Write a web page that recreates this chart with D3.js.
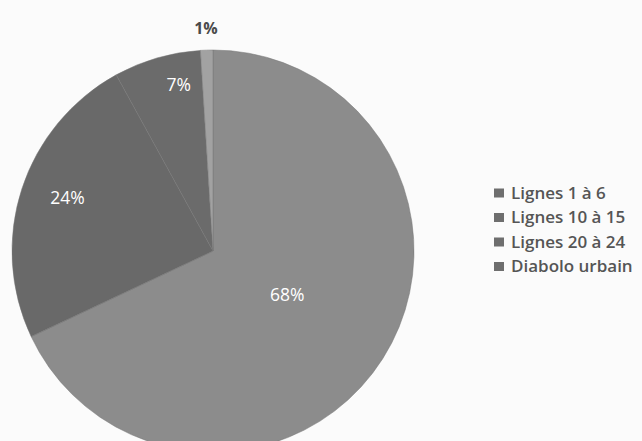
<!DOCTYPE html>
<html>
<head>
<meta charset="utf-8">
<script src="https://cdn.jsdelivr.net/npm/d3@7"></script>
<style>
  html, body { margin: 0; padding: 0; background: #fbfbfb; }
  svg { display: block; }
</style>
</head>
<body>
<svg id="chart" width="642" height="441"></svg>
<script>
// Share of traffic per line group
const categories = ["Lignes 1 à 6", "Lignes 10 à 15", "Lignes 20 à 24", "Diabolo urbain"];
const shares = [68, 24, 7, 1];
const labels = ["68%", "24%", "7%", "1%"];
const sliceColors = ["#8c8c8c", "#696969", "#6b6b6b", "#a2a2a2"];

const W = 642, H = 441;
const cx = 213, cy = 251, R = 201;

const svg = d3.select("#chart");
svg.append("rect").attr("width", W).attr("height", H).attr("fill", "#fbfbfb");

const pie = d3.pie().sort(null).value(d => d);
const arcs = pie(shares);
const arc = d3.arc().innerRadius(0).outerRadius(R);

const color = d3.scaleOrdinal().domain(categories).range(sliceColors);

const g = svg.append("g").attr("transform", `translate(${cx},${cy})`);

g.selectAll("path.slice")
  .data(arcs)
  .join("path")
  .attr("class", "slice")
  .attr("d", arc)
  .attr("fill", (d, i) => color(categories[i]))
  .attr("stroke", "#747474")
  .attr("stroke-width", 0.5);

// Label placement: radius as a fraction of R, and an angular nudge in degrees
const labelRadius = [0.43, 0.77, 0.845, 1.11];
const labelNudge = [-1.7, 2, 4.6, 0];

g.selectAll("text.val")
  .data(arcs)
  .join("text")
  .attr("class", "val")
  .attr("x", (d, i) => {
    const a = (d.startAngle + d.endAngle) / 2 + labelNudge[i] * Math.PI / 180;
    return Math.sin(a) * R * labelRadius[i];
  })
  .attr("y", (d, i) => {
    const a = (d.startAngle + d.endAngle) / 2 + labelNudge[i] * Math.PI / 180;
    return -Math.cos(a) * R * labelRadius[i];
  })
  .attr("dy", "0.35em")
  .attr("text-anchor", "middle")
  .attr("font-family", "'Open Sans', Lato, sans-serif")
  .attr("font-size", (d, i) => i === 3 ? 16 : 17.5)
  .attr("font-weight", (d, i) => i === 3 ? 700 : 400)
  .attr("fill", (d, i) => i === 3 ? "#4a4a4a" : "#ffffff")
  .text((d, i) => labels[i]);

// Legend
const legend = svg.append("g").attr("transform", "translate(494,193)");
const rowH = 24.5;
const rows = legend.selectAll("g.row")
  .data(categories)
  .join("g")
  .attr("class", "row")
  .attr("transform", (d, i) => `translate(0,${i * rowH})`);

rows.append("rect")
  .attr("x", 0).attr("y", -4.5)
  .attr("width", 10).attr("height", 9)
  .attr("fill", "#6e6e6e");

rows.append("text")
  .attr("x", 17)
  .attr("y", 0)
  .attr("dy", "0.35em")
  .attr("font-family", "'Open Sans', Lato, sans-serif")
  .attr("font-size", 17)
  .attr("font-weight", 600)
  .attr("fill", "#555555")
  .text(d => d);
</script>
</body>
</html>
